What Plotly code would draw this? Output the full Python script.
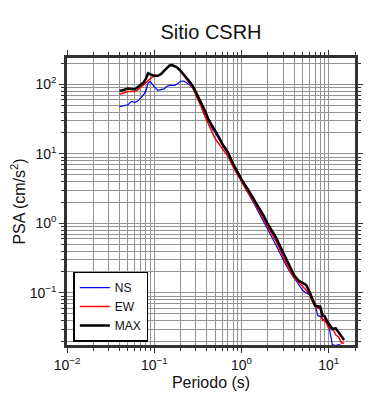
import plotly.graph_objects as go

periods = [0.04, 0.045, 0.05, 0.055, 0.06, 0.065, 0.07, 0.075, 0.08, 0.085, 0.09, 0.095,
           0.1, 0.11, 0.12, 0.13, 0.14, 0.15, 0.16, 0.17, 0.18, 0.2, 0.22, 0.24, 0.26, 0.28,
           0.3, 0.34, 0.38, 0.42, 0.46, 0.5, 0.55, 0.6, 0.7, 0.8, 0.9, 1.0, 1.2, 1.4, 1.6,
           1.8, 2.0, 2.5, 3.0, 3.5, 4.0, 4.5, 5.0, 5.5, 6.0, 6.5, 7.0, 7.5, 8.0, 8.5, 9.0,
           9.5, 10, 11, 12, 13, 14, 15]

psa_max = [80, 84, 87, 86, 85, 92, 98, 106, 120, 145, 140, 136,
           133, 133, 141, 158, 175, 188, 190, 186, 178, 158, 138, 122, 106, 92,
           78, 57, 42, 31, 25, 21.5, 17.5, 14, 10.5, 7.2, 5.5, 4.3, 3.0, 2.2, 1.65,
           1.28, 0.98, 0.62, 0.38, 0.25, 0.18, 0.15, 0.14, 0.13, 0.105, 0.08, 0.066, 0.064, 0.063, 0.047, 0.046,
           0.04, 0.036, 0.03, 0.031, 0.027, 0.023, 0.021]

psa_ew = [72, 76, 79, 79, 79, 84, 90, 98, 106, 112, 120, 128,
          132, 136, 142, 158, 174, 186, 188, 184, 176, 155, 134, 117, 100, 86,
          72, 50, 35, 26, 20, 16.5, 14, 12, 9.2, 6.5, 5.0, 3.9, 2.7, 2.0, 1.5,
          1.15, 0.88, 0.55, 0.33, 0.22, 0.165, 0.14, 0.125, 0.11, 0.095, 0.075, 0.063, 0.061, 0.059, 0.04, 0.042,
          0.035, 0.031, 0.032, 0.025, 0.023, 0.019, 0.019]

psa_ns = [48, 49, 51, 57, 55, 58, 64, 70, 80, 105, 110, 100,
          93, 82, 83, 86, 94, 97, 97, 97, 100, 111, 112, 103, 96, 86,
          74, 54, 39, 29.5, 23.5, 20, 16.5, 13.3, 10.0, 6.9, 5.2, 4.0, 2.7, 1.9, 1.4,
          1.05, 0.8, 0.48, 0.3, 0.21, 0.165, 0.13, 0.11, 0.1, 0.094, 0.08, 0.066, 0.047, 0.046, 0.042, 0.04,
          0.037, 0.034, 0.018, 0.0175, 0.018, 0.0175, None]

x_major = [0.01, 0.1, 1, 10]
x_labels = ["10<sup>−2</sup>", "10<sup>−1</sup>", "10<sup>0</sup>", "10<sup>1</sup>"]
y_major = [0.1, 1, 10, 100]
y_labels = ["10<sup>−1</sup>", "10<sup>0</sup>", "10<sup>1</sup>", "10<sup>2</sup>"]

x_minor = [m * d for d in [0.01, 0.1, 1, 10] for m in range(2, 10)]
y_minor = [m * d for d in [0.01, 0.1, 1, 10, 100] for m in range(2, 10)]

FONT = "Liberation Sans, Arial, sans-serif"
GRID = "#949494"
FRAME = "#333333"

fig = go.Figure()
fig.add_trace(go.Scatter(x=periods, y=psa_ns, mode="lines", name="NS",
                         line=dict(color="#0000ff", width=1.2)))
fig.add_trace(go.Scatter(x=periods, y=psa_ew, mode="lines", name="EW",
                         line=dict(color="#ff0000", width=1.5)))
fig.add_trace(go.Scatter(x=periods, y=psa_max, mode="lines", name="MAX",
                         line=dict(color="#000000", width=2.5)))

axis_common = dict(
    type="log", showline=True, linecolor=FRAME, linewidth=2.5, mirror="ticks",
    ticks="outside", ticklen=5, tickwidth=1, tickcolor=FRAME,
    showgrid=True, gridcolor=GRID, gridwidth=0.8, zeroline=False, automargin=False,
    tickfont=dict(family=FONT, size=14, color="#111"),
)

fig.update_xaxes(
    range=[-2, 1.30103], tickvals=x_major, ticktext=x_labels,
    minor=dict(tickvals=x_minor, ticks="outside", ticklen=3, tickcolor=FRAME,
               showgrid=True, gridcolor=GRID, gridwidth=0.8),
    title=dict(text="Periodo (s)", font=dict(family=FONT, size=16, color="#111"), standoff=6),
    **axis_common,
)
fig.update_yaxes(
    range=[-1.75, 2.38], tickvals=y_major, ticktext=y_labels,
    minor=dict(tickvals=y_minor, ticks="outside", ticklen=3, tickcolor=FRAME,
               showgrid=True, gridcolor=GRID, gridwidth=0.8),
    title=dict(text="PSA (cm/s<sup>2</sup>)", font=dict(family=FONT, size=16, color="#111"), standoff=10),
    **axis_common,
)

# the page body has an 8px margin, so the figure is 8px smaller than the window
fig.update_layout(
    width=382, height=392,
    margin=dict(l=59, r=35, t=50, b=55),
    paper_bgcolor="white", plot_bgcolor="white",
    title=dict(text="Sitio CSRH", x=0.5, xref="paper", y=1 - 24 / 392, yref="container",
               yanchor="middle", font=dict(family=FONT, size=20, color="#111")),
    showlegend=True,
    legend=dict(x=0.022, y=0.012, xanchor="left", yanchor="bottom",
                bgcolor="white", bordercolor="#000", borderwidth=1.5,
                font=dict(family=FONT, size=12, color="#111"),
                itemwidth=30, tracegroupgap=0),
)

fig.write_html("out.html")
